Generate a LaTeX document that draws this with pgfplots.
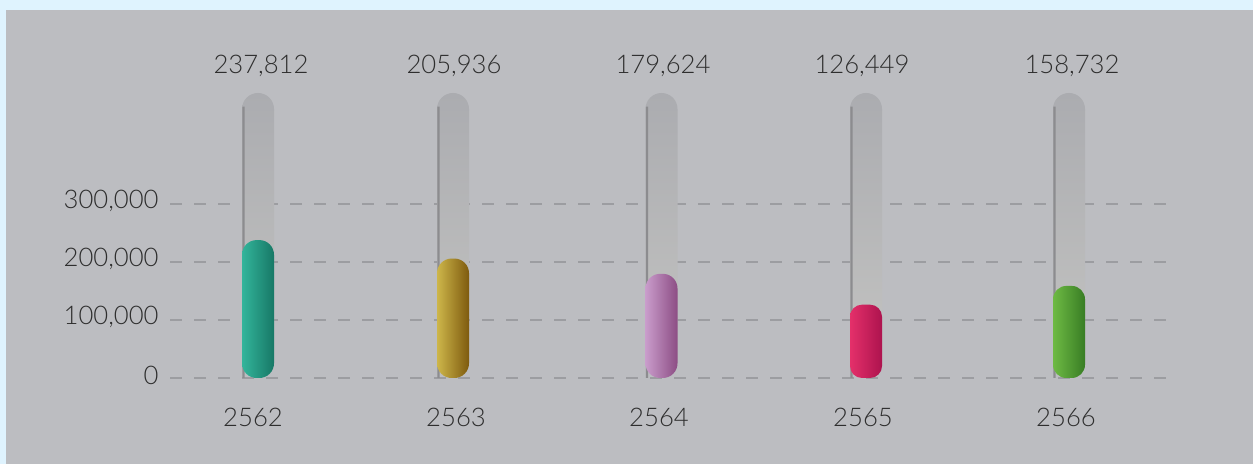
\documentclass[border=0pt]{standalone}
\usepackage{pgfplots}
\pgfplotsset{compat=1.18}
\usepackage{fontspec}
\setmainfont{Lato}[UprightFont={* Light}]
\definecolor{bgblue}{HTML}{DFF3FE}
\definecolor{panel}{HTML}{BCBDC1}
\definecolor{textc}{HTML}{2E2E2E}
\definecolor{gridc}{HTML}{9C9DA1}
\definecolor{tubetop}{HTML}{ABACB0}
\definecolor{tubebot}{HTML}{C4C4C2}
\definecolor{edgec}{HTML}{8C8C8F}
\definecolor{tealL}{HTML}{33B59B}
\definecolor{tealR}{HTML}{177866}
\definecolor{goldL}{HTML}{CDB64A}
\definecolor{goldR}{HTML}{7E5A0E}
\definecolor{purpL}{HTML}{C99CCB}
\definecolor{purpR}{HTML}{8C4D84}
\definecolor{redL}{HTML}{E4306A}
\definecolor{redR}{HTML}{AD134E}
\definecolor{greenL}{HTML}{6EBA44}
\definecolor{greenR}{HTML}{387D24}
\begin{document}
\begin{tikzpicture}
\fill[bgblue] (0pt,0pt) rectangle (939.75pt,348pt);
\fill[panel] (4.5pt,0pt) rectangle (939.75pt,340.5pt);
\begin{axis}[
  at={(127.5pt,64.5pt)}, anchor=south west,
  width=750pt, height=217.5pt, scale only axis,
  xmin=170, xmax=1170, ymin=0, ymax=500000,
  clip=false,
  axis line style={draw=none},
  tick style={draw=none},
  major tick length=0pt,
  ymajorgrids,
  grid style={gridc, line width=1.5pt, dash pattern=on 9pt off 9pt},
  ytick={0,100000,200000,300000},
  scaled y ticks=false,
  xtick={253,456,659,863,1066},
  xticklabels={2562,2563,2564,2565,2566},
  /pgf/number format/assume math mode=true,
  /pgf/number format/fixed,
  /pgf/number format/1000 sep={,},
  tick label style={font=\fontsize{19.25}{20}\selectfont, text=textc},
  yticklabel style={xshift=-5pt, yshift=2pt},
  xticklabel style={yshift=-19pt},
]
% tubes
\addplot[ybar, bar width=24pt, bar shift=0pt, draw=none, rounded corners=12pt,
  top color=tubetop, bottom color=tubebot]
  coordinates {(258,491400) (453,491400) (661.5,491400) (866,491400) (1069,491400)};
\addplot[ybar, bar width=1.8pt, bar shift=-10.9pt, draw=none, fill=edgec]
  coordinates {(258,468000) (453,468000) (661.5,468000) (866,468000) (1069,468000)};
% values
\addplot[ybar, bar width=24pt, bar shift=0pt, draw=none, rounded corners=11pt,
  left color=tealL, right color=tealR] coordinates {(258,237812)};
\addplot[ybar, bar width=24pt, bar shift=0pt, draw=none, rounded corners=11pt,
  left color=goldL, right color=goldR] coordinates {(453,205936)};
\addplot[ybar, bar width=24pt, bar shift=0pt, draw=none, rounded corners=11pt,
  left color=purpL, right color=purpR] coordinates {(661.5,179624)};
\addplot[ybar, bar width=24pt, bar shift=0pt, draw=none, rounded corners=9pt,
  left color=redL, right color=redR] coordinates {(866,126449)};
\addplot[ybar, bar width=24pt, bar shift=0pt, draw=none, rounded corners=10pt,
  left color=greenL, right color=greenR] coordinates {(1069,158732)};
\node[font=\fontsize{19.25}{20}\selectfont, text=textc] at (axis cs:261,538000) {237,812};
\node[font=\fontsize{19.25}{20}\selectfont, text=textc] at (axis cs:454,538000) {205,936};
\node[font=\fontsize{19.25}{20}\selectfont, text=textc] at (axis cs:663,538000) {179,624};
\node[font=\fontsize{19.25}{20}\selectfont, text=textc] at (axis cs:862,538000) {126,449};
\node[font=\fontsize{19.25}{20}\selectfont, text=textc] at (axis cs:1072,538000) {158,732};
\end{axis}
\end{tikzpicture}
\end{document}
